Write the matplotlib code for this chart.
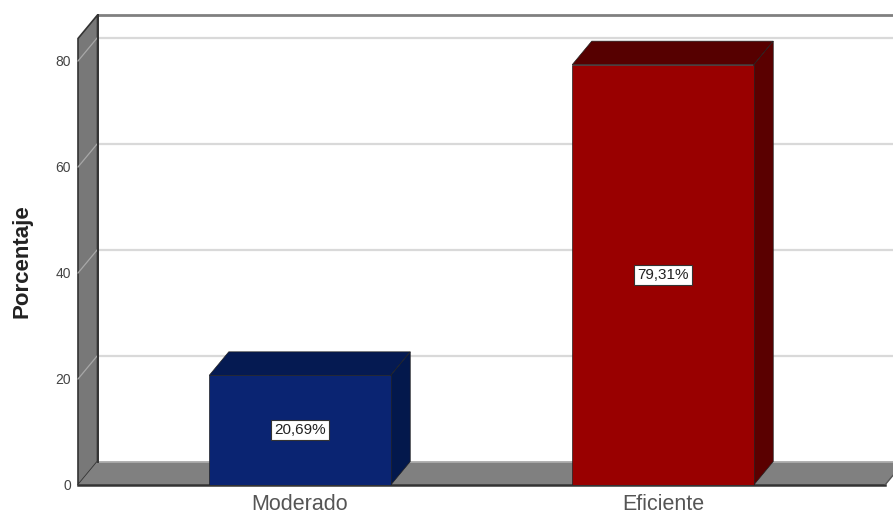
import matplotlib
matplotlib.use('Agg')
import matplotlib.pyplot as plt
from matplotlib.patches import Polygon

categories = ['Moderado', 'Eficiente']
percent = [20.69, 79.31]
percent_labels = ['20,69%', '79,31%']
y_ticks = [0, 20, 40, 60, 80]

front_colors = ['#0a2472', '#990000']
side_colors = ['#03184c', '#5a0000']
top_colors = ['#051a52', '#560000']

# pixel scale of the chart area
px_per_cat = 363.0
px_per_unit = 5.3
dx = 19.5 / px_per_cat    # depth of the 3D box along x
dy = 23.5 / px_per_unit   # depth of the 3D box along y
bar_w = 0.5

plt.rcParams['font.family'] = ['Liberation Sans', 'DejaVu Sans']

fig = plt.figure(figsize=(8.93, 5.16), dpi=100)
ax = fig.add_axes([78 / 893, 31 / 516, 815 / 893, 485 / 516])
ax.set_xlim((78 - 300) / px_per_cat, (893 - 300) / px_per_cat)
ax.set_ylim(0, 485 / px_per_unit)
for s in ax.spines.values():
    s.set_visible(False)

x_left = ax.get_xlim()[0]
x_right = (885 - 300) / px_per_cat
y_top = 80 + 22.5 / px_per_unit  # wall goes a little past 80


def poly(pts, fc, ec='none', lw=0.0, z=1):
    ax.add_patch(Polygon(pts, closed=True, facecolor=fc, edgecolor=ec, linewidth=lw,
                         zorder=z, clip_on=False, joinstyle='miter'))


# back wall, left wall, floor
poly([(x_left + dx, dy), (x_right + dx, dy), (x_right + dx, y_top + dy), (x_left + dx, y_top + dy)], 'white')
poly([(x_left, 0), (x_left + dx, dy), (x_left + dx, y_top + dy), (x_left, y_top)], '#787878', '#333333', 1.2, z=2)
poly([(x_left, 0), (x_right, 0), (x_right + dx, dy), (x_left + dx, dy)], '#808080', z=2)

# gridlines on the wall and their diagonals on the side
for v in y_ticks[1:]:
    ax.plot([x_left + dx, x_right + dx], [v + dy, v + dy], color='#d9d9d9', lw=1.6, zorder=1.5, clip_on=True)
    ax.plot([x_left, x_left + dx], [v, v + dy], color='#a8a8a8', lw=0.9, zorder=3, clip_on=False)

# frame lines
ax.plot([x_left + dx, x_right + dx], [y_top + dy, y_top + dy], color='#808080', lw=2.0, zorder=3)
ax.plot([x_left + dx, x_right + dx], [dy, dy], color='#b0b0b0', lw=1.2, zorder=3)
ax.plot([x_left + dx, x_left + dx], [dy, y_top + dy], color='#333333', lw=1.4, zorder=3)
ax.plot([x_left, x_right], [0, 0], color='#333333', lw=1.8, zorder=3, clip_on=False)
ax.plot([x_right, x_right + dx], [0, dy], color='#555555', lw=1.0, zorder=3)

# bars as boxes
for i, val in enumerate(percent):
    x0, x1 = i - bar_w / 2, i + bar_w / 2
    poly([(x0, val), (x1, val), (x1 + dx, val + dy), (x0 + dx, val + dy)], top_colors[i], '#222222', 0.5, z=4)
    poly([(x1, 0), (x1 + dx, dy), (x1 + dx, val + dy), (x1, val)], side_colors[i], '#222222', 0.5, z=4)
    ax.bar(i, val, width=bar_w, color=front_colors[i], edgecolor='#222222', linewidth=0.5, zorder=5)
    ax.text(i, val / 2, percent_labels[i], ha='center', va='center', fontsize=11, color='#222222', zorder=6,
            bbox=dict(boxstyle='square,pad=0.2', facecolor='white', edgecolor='#333333', linewidth=0.8))

ax.set_xticks(range(len(categories)))
ax.set_xticklabels(categories, fontsize=15.5, color='#555555')
ax.set_yticks(y_ticks)
ax.set_yticklabels([str(v) for v in y_ticks], fontsize=10, color='#444444')
ax.tick_params(axis='both', length=0)
ax.tick_params(axis='x', pad=6.5)
ax.tick_params(axis='y', pad=5)
ax.set_ylabel('Porcentaje', fontsize=16, fontweight='bold', color='#222222')
ax.yaxis.set_label_coords(-45 / 815, 224 / 485)

fig.savefig('out.png', dpi=100)
